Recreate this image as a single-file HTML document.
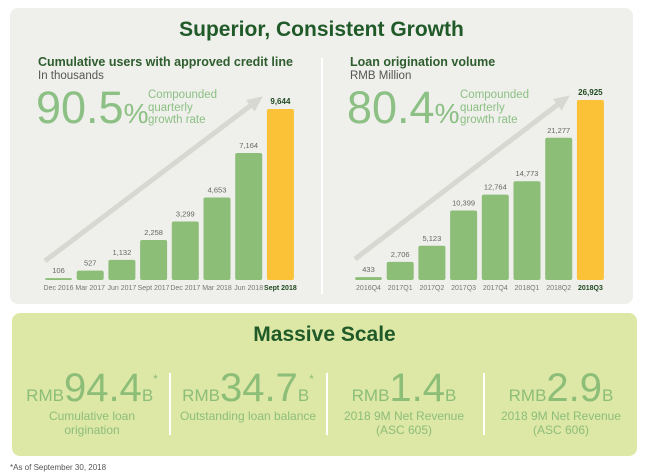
<!DOCTYPE html>
<html><head><meta charset="utf-8"><style>
body{margin:0;width:646px;height:476px;background:#fff;font-family:"Liberation Sans",sans-serif;position:relative;overflow:hidden}
.abs{position:absolute}
</style></head><body>
<div class="abs" style="left:10px;top:8px;width:623px;height:296px;background:#efefeb;border-radius:8px"></div>
<div class="abs" style="left:10px;top:18px;width:623px;text-align:center;font-size:21px;font-weight:bold;color:#1f5a28">Superior, Consistent Growth</div>
<div class="abs" style="left:321px;top:58px;width:2px;height:236px;background:#fff"></div>
<svg class="abs" style="left:0;top:0" width="646" height="476" id="svg"></svg>

<div class="abs" style="left:12px;top:313px;width:625px;height:143px;background:#dde7a6;border-radius:8px"></div>
<div class="abs" style="left:12px;top:323px;width:625px;text-align:center;font-size:21px;font-weight:bold;color:#1f5a28">Massive Scale</div>
<div id="stats"></div>
<div class="abs" style="left:10px;top:463px;font-size:8px;color:#555">*As of September 30, 2018</div>
<script>
const svg=document.getElementById('svg');const NS='http://www.w3.org/2000/svg';
function el(t,a,txt){const e=document.createElementNS(NS,t);for(const k in a)e.setAttribute(k,a[k]);if(txt!==undefined)e.textContent=txt;svg.appendChild(e);return e;}
const usersCats=["Dec 2016","Mar 2017","Jun 2017","Sept 2017","Dec 2017","Mar 2018","Jun 2018","Sept 2018"];
const usersVals=[106,527,1132,2258,3299,4653,7164,9644];
const loanCats=["2016Q4","2017Q1","2017Q2","2017Q3","2017Q4","2018Q1","2018Q2","2018Q3"];
const loanVals=[433,2706,5123,10399,12764,14773,21277,26925];
function fmt(v){return v.toLocaleString('en-US');}
function chart(cats,vals,x0,maxH,name){
  const base=280,step=31.7,bw=27,max=Math.max(...vals);
  const y=v=>base-v/max*maxH;
  cats.forEach((c,i)=>{
    const last=i===cats.length-1;
    const x=x0+i*step;
    const r=el('rect',{x:x,y:y(vals[i]),width:bw,height:base-y(vals[i]),rx:2,fill:last?'#fbc137':'#8cbe78'});
    
    
    const t=el('text',{x:x+bw/2,y:y(vals[i])-5,'text-anchor':'middle','font-size':last?8:7.5,'font-weight':last?'bold':'normal',fill:last?'#1f4a20':'#666'},fmt(vals[i]));
    
    
    const l=el('text',{x:x+bw/2,y:base+10,'text-anchor':'middle','font-size':7,'font-weight':last?'bold':'normal',fill:last?'#1f4a20':'#777'},c);
    
    
  });
}
// arrows
function arrow(x1,y1,x2,y2,n){
  const a=el('line',{x1:x1,y1:y1,x2:x2,y2:y2,stroke:'#d8d8d2','stroke-width':5});
  
  const ang=Math.atan2(y2-y1,x2-x1),s=12;
  const p=[[x2+Math.cos(ang)*6,y2+Math.sin(ang)*6],[x2+Math.cos(ang+2.5)*s,y2+Math.sin(ang+2.5)*s],[x2+Math.cos(ang-2.5)*s,y2+Math.sin(ang-2.5)*s]];
  el('polygon',{points:p.map(q=>q.join(',')).join(' '),fill:'#d8d8d2'});
}
arrow(45,261,258,100,'users-arrow');
arrow(355,259,565,99,'loan-arrow');
chart(usersCats,usersVals,45,171,'users');
chart(loanCats,loanVals,355,180,'loan');
// header texts
function txt(x,y,s,size,w,fill,n){const t=el('text',{x:x,y:y,'font-size':size,'font-weight':w,fill:fill},s);return t;}
txt(38,66,'Cumulative users with approved credit line',12.5,'bold','#2e5d2e','users-title');
txt(38,79,'In thousands',11.5,'normal','#555','users-unit');
txt(350,66,'Loan origination volume',12.5,'bold','#2e5d2e','loan-title');
txt(350,79,'RMB  Million',11.5,'normal','#555','loan-unit');
function big(x,s,n){const t=el('text',{x:x,y:123,'font-size':45,fill:'#8cc084'});
 const a=document.createElementNS(NS,'tspan');a.textContent=s;t.appendChild(a);const b=document.createElementNS(NS,'tspan');b.setAttribute('font-size',28);b.textContent='%';t.appendChild(b);}
big(36,'90.5','users-cagr');big(347,'80.4','loan-cagr');
[['Compounded',98],['quarterly',111],['growth rate',123]].forEach((r,i)=>{
 txt(148,r[1],r[0],11.5,'normal','#8cc084','users-cagr-label-'+i);
 txt(460,r[1],r[0],11.5,'normal','#8cc084','loan-cagr-label-'+i);
});
// stats
const stats=[['94.4','*',['Cumulative loan','origination'],92],['34.7','*',['Outstanding loan balance'],248],['1.4','',['2018 9M Net Revenue','(ASC 605)'],404],['2.9','',['2018 9M Net Revenue','(ASC 606)'],561]];
let h='';
stats.forEach((s,i)=>{
 h+=`<div class="abs" style="left:${s[3]-80}px;top:370px;width:160px;text-align:center;color:#8cbe78">
 <span style="font-size:17px">RMB</span><span style="font-size:40px;line-height:36px">${s[0]}</span><span style="font-size:17px">B</span><sup style="font-size:12px;vertical-align:18px">${s[1]}</sup>
 <div style="font-size:12px;line-height:14px;margin-top:3px">${s[2].join('<br>')}</div></div>`;
});
[169,326,483].forEach((x,i)=>{h+=`<div class="abs" style="left:${x}px;top:373px;width:2px;height:62px;background:#fff"></div>`;});
document.getElementById('stats').innerHTML=h;
</script>
</body></html>
